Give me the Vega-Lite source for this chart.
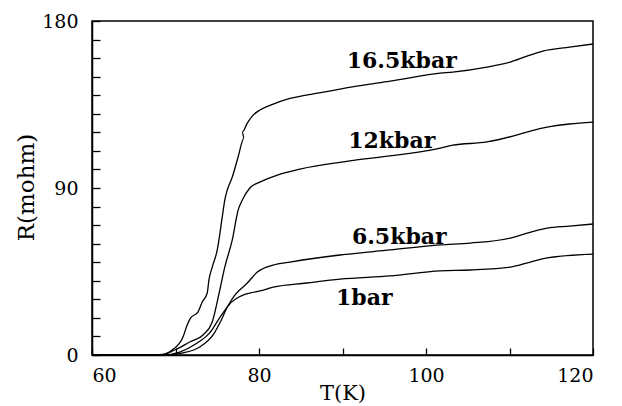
{
  "$schema": "https://vega.github.io/schema/vega-lite/v6.json",
  "autosize": {"type": "none"},
  "width": 501,
  "height": 334,
  "padding": {"left": 92, "top": 21, "right": 29, "bottom": 51},
  "background": "white",
  "config": {
    "view": {"stroke": "black", "strokeWidth": 1.5},
    "font": "DejaVu Serif"
  },
  "datasets": {
    "curves": [
      {"p": "16.5kbar", "T": 60, "R": 0},
      {"p": "16.5kbar", "T": 66.9, "R": 0},
      {"p": "16.5kbar", "T": 68.7, "R": 0.5},
      {"p": "16.5kbar", "T": 69.6, "R": 2.7},
      {"p": "16.5kbar", "T": 70.9, "R": 9.7},
      {"p": "16.5kbar", "T": 71.4, "R": 16.2},
      {"p": "16.5kbar", "T": 71.8, "R": 19.9},
      {"p": "16.5kbar", "T": 72.7, "R": 23.2},
      {"p": "16.5kbar", "T": 73.2, "R": 28.6},
      {"p": "16.5kbar", "T": 73.8, "R": 33.4},
      {"p": "16.5kbar", "T": 74.0, "R": 40.4},
      {"p": "16.5kbar", "T": 74.4, "R": 47.4},
      {"p": "16.5kbar", "T": 75.0, "R": 56.6},
      {"p": "16.5kbar", "T": 75.6, "R": 74.4},
      {"p": "16.5kbar", "T": 75.9, "R": 83.5},
      {"p": "16.5kbar", "T": 76.2, "R": 88.9},
      {"p": "16.5kbar", "T": 76.8, "R": 95.9},
      {"p": "16.5kbar", "T": 77.5, "R": 106.7},
      {"p": "16.5kbar", "T": 78.2, "R": 116.9},
      {"p": "16.5kbar", "T": 78.0, "R": 120.2},
      {"p": "16.5kbar", "T": 78.6, "R": 125.0},
      {"p": "16.5kbar", "T": 79.3, "R": 129.3},
      {"p": "16.5kbar", "T": 80.1, "R": 132.0},
      {"p": "16.5kbar", "T": 81.7, "R": 135.2},
      {"p": "16.5kbar", "T": 83.4, "R": 137.9},
      {"p": "16.5kbar", "T": 85.7, "R": 140.1},
      {"p": "16.5kbar", "T": 87.7, "R": 141.7},
      {"p": "16.5kbar", "T": 91.7, "R": 144.9},
      {"p": "16.5kbar", "T": 95.7, "R": 147.6},
      {"p": "16.5kbar", "T": 101.7, "R": 151.9},
      {"p": "16.5kbar", "T": 103.2, "R": 152.5},
      {"p": "16.5kbar", "T": 107.3, "R": 155.2},
      {"p": "16.5kbar", "T": 110.1, "R": 157.9},
      {"p": "16.5kbar", "T": 112.1, "R": 161.1},
      {"p": "16.5kbar", "T": 114.0, "R": 163.8},
      {"p": "16.5kbar", "T": 117.2, "R": 165.9},
      {"p": "16.5kbar", "T": 120, "R": 167.6},

      {"p": "12kbar", "T": 60, "R": 0},
      {"p": "12kbar", "T": 68.1, "R": 0},
      {"p": "12kbar", "T": 69.9, "R": 2.7},
      {"p": "12kbar", "T": 71.7, "R": 7.0},
      {"p": "12kbar", "T": 73.3, "R": 10.8},
      {"p": "12kbar", "T": 74.4, "R": 17.8},
      {"p": "12kbar", "T": 75.3, "R": 35.0},
      {"p": "12kbar", "T": 75.9, "R": 47.4},
      {"p": "12kbar", "T": 76.8, "R": 62.0},
      {"p": "12kbar", "T": 77.5, "R": 78.1},
      {"p": "12kbar", "T": 78.0, "R": 83.5},
      {"p": "12kbar", "T": 78.9, "R": 90.0},
      {"p": "12kbar", "T": 80.1, "R": 93.2},
      {"p": "12kbar", "T": 82.2, "R": 97.0},
      {"p": "12kbar", "T": 84.9, "R": 100.2},
      {"p": "12kbar", "T": 91.7, "R": 105.1},
      {"p": "12kbar", "T": 101.7, "R": 111.5},
      {"p": "12kbar", "T": 103.2, "R": 113.1},
      {"p": "12kbar", "T": 107.3, "R": 114.8},
      {"p": "12kbar", "T": 110.4, "R": 118.0},
      {"p": "12kbar", "T": 112.5, "R": 120.7},
      {"p": "12kbar", "T": 114.5, "R": 122.8},
      {"p": "12kbar", "T": 117.2, "R": 124.5},
      {"p": "12kbar", "T": 120, "R": 125.5},

      {"p": "6.5kbar", "T": 60, "R": 0},
      {"p": "6.5kbar", "T": 68.5, "R": 0},
      {"p": "6.5kbar", "T": 70.5, "R": 1.6},
      {"p": "6.5kbar", "T": 72.6, "R": 6.5},
      {"p": "6.5kbar", "T": 74.1, "R": 11.9},
      {"p": "6.5kbar", "T": 75.2, "R": 19.5},
      {"p": "6.5kbar", "T": 76.2, "R": 26.0},
      {"p": "6.5kbar", "T": 77.1, "R": 32.3},
      {"p": "6.5kbar", "T": 78.6, "R": 38.8},
      {"p": "6.5kbar", "T": 79.8, "R": 44.7},
      {"p": "6.5kbar", "T": 81.7, "R": 48.5},
      {"p": "6.5kbar", "T": 83.7, "R": 50.1},
      {"p": "6.5kbar", "T": 89.7, "R": 53.9},
      {"p": "6.5kbar", "T": 95.7, "R": 56.6},
      {"p": "6.5kbar", "T": 101.7, "R": 59.3},
      {"p": "6.5kbar", "T": 105.3, "R": 60.3},
      {"p": "6.5kbar", "T": 110.1, "R": 63.0},
      {"p": "6.5kbar", "T": 112.1, "R": 65.7},
      {"p": "6.5kbar", "T": 114.5, "R": 68.4},
      {"p": "6.5kbar", "T": 117.2, "R": 69.5},
      {"p": "6.5kbar", "T": 120, "R": 70.6},

      {"p": "1bar", "T": 60, "R": 0},
      {"p": "1bar", "T": 69.0, "R": 0},
      {"p": "1bar", "T": 70.9, "R": 1.1},
      {"p": "1bar", "T": 72.9, "R": 4.3},
      {"p": "1bar", "T": 74.5, "R": 10.8},
      {"p": "1bar", "T": 75.5, "R": 19.0},
      {"p": "1bar", "T": 76.2, "R": 25.8},
      {"p": "1bar", "T": 77.4, "R": 30.7},
      {"p": "1bar", "T": 78.9, "R": 33.4},
      {"p": "1bar", "T": 80.1, "R": 34.5},
      {"p": "1bar", "T": 81.7, "R": 36.6},
      {"p": "1bar", "T": 85.7, "R": 38.8},
      {"p": "1bar", "T": 89.7, "R": 40.9},
      {"p": "1bar", "T": 95.7, "R": 42.6},
      {"p": "1bar", "T": 101.7, "R": 45.3},
      {"p": "1bar", "T": 105.3, "R": 45.8},
      {"p": "1bar", "T": 110.1, "R": 47.4},
      {"p": "1bar", "T": 112.5, "R": 50.1},
      {"p": "1bar", "T": 114.5, "R": 52.3},
      {"p": "1bar", "T": 120, "R": 54.4}
    ],
    "labels": [
      {"label": "16.5kbar", "T": 97.1, "R": 158.5},
      {"label": "12kbar", "T": 95.9, "R": 115.5},
      {"label": "6.5kbar", "T": 96.8, "R": 63.8},
      {"label": "1bar", "T": 92.6, "R": 30.5}
    ]
  },
  "encoding": {
    "x": {
      "field": "T", "type": "quantitative",
      "scale": {"domain": [60, 120], "nice": false, "zero": false},
      "axis": {
        "title": "T(K)",
        "values": [60, 70, 80, 90, 100, 110, 120],
        "labelExpr": "datum.value % 20 === 0 ? datum.label : ''",
        "labelOverlap": false,
        "grid": false,
        "domainColor": "black", "domainWidth": 1.5,
        "tickColor": "black", "tickSize": -7, "tickWidth": 1.3,
        "labelFont": "DejaVu Serif", "labelFontSize": 19, "labelColor": "black",
        "labelPadding": 18,
        "titleFont": "DejaVu Serif", "titleFontSize": 21, "titleFontWeight": "normal", "titleColor": "black",
        "titleY": 38, "titleBaseline": "middle"
      }
    },
    "y": {
      "field": "R", "type": "quantitative",
      "scale": {"domain": [0, 180], "nice": false},
      "axis": {
        "title": "R(mohm)",
        "values": [0, 10, 20, 30, 40, 50, 60, 70, 80, 90, 100, 110, 120, 130, 140, 150, 160, 170, 180],
        "labelExpr": "datum.value % 90 === 0 ? datum.label : ''",
        "labelOverlap": false,
        "grid": false,
        "domainColor": "black", "domainWidth": 1.5,
        "tickColor": "black", "tickSize": -8, "tickWidth": 1.3,
        "labelFont": "DejaVu Serif", "labelFontSize": 19, "labelColor": "black",
        "labelPadding": 22,
        "titleFont": "DejaVu Serif", "titleFontSize": 23, "titleFontWeight": "normal", "titleColor": "black",
        "titleX": -66, "titleY": 166, "titleAlign": "center", "titleBaseline": "middle"
      }
    }
  },
  "layer": [
    {
      "data": {"name": "curves"},
      "mark": {"type": "line", "color": "black", "strokeWidth": 1.3, "interpolate": "monotone"},
      "encoding": {
        "detail": {"field": "p"},
        "order": {"value": null}
      }
    },
    {
      "data": {"name": "labels"},
      "mark": {"type": "text", "font": "DejaVu Serif", "fontWeight": "bold", "fontSize": 22, "color": "black", "align": "center", "baseline": "middle"},
      "encoding": {
        "text": {"field": "label"}
      }
    }
  ]
}
